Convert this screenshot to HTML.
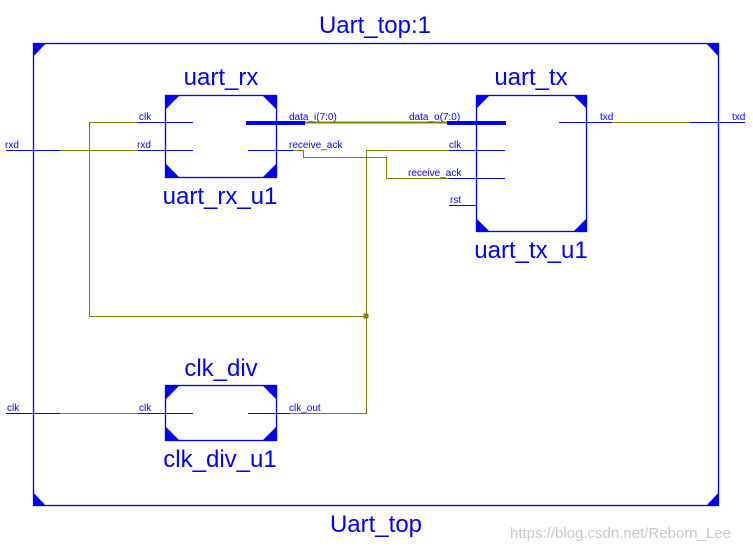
<!DOCTYPE html>
<html><head><meta charset="utf-8"><style>
html,body{margin:0;padding:0;background:#fff;}
svg{display:block;}
text{font-family:"Liberation Sans",Arial,sans-serif;fill:#0000ff;}
.s{font-size:10px;}
.b{font-size:24px;}
</style></head><body>
<svg width="753" height="550" viewBox="0 0 753 550" xmlns="http://www.w3.org/2000/svg">
<g fill="none" stroke="#0000ff" stroke-width="1.3">
<rect x="33.5" y="43.5" width="685" height="462"/>
<rect x="165.5" y="95.5" width="111" height="82"/>
<rect x="476.5" y="95.5" width="110" height="136"/>
<rect x="165.5" y="385.5" width="111" height="55"/>
</g>
<g fill="#0000ff">
<polygon points="33,43 46,43 33,57"/><polygon points="719,43 706,43 719,57"/>
<polygon points="33,506 46,506 33,492"/><polygon points="719,506 706,506 719,492"/>
<polygon points="165,95 180,95 165,110"/><polygon points="277,95 262,95 277,110"/>
<polygon points="165,178 180,178 165,163"/><polygon points="277,178 262,178 277,163"/>
<polygon points="476,95 490,95 476,109"/><polygon points="587,95 573,95 587,109"/>
<polygon points="476,232 490,232 476,218"/><polygon points="587,232 573,232 587,218"/>
<polygon points="165,385 180,385 165,400"/><polygon points="277,385 262,385 277,400"/>
<polygon points="165,441 180,441 165,426"/><polygon points="277,441 262,441 277,426"/>
<rect x="363.5" y="313.5" width="5" height="5" fill="#808000"/>
</g>
<g stroke="#0000ff" stroke-width="1">
<line x1="138" y1="122.5" x2="193" y2="122.5"/>
<line x1="138" y1="150.5" x2="193" y2="150.5"/>
<line x1="6" y1="150.5" x2="60" y2="150.5"/>
<line x1="248" y1="150.5" x2="293" y2="150.5"/>
<line x1="449" y1="150.5" x2="505" y2="150.5"/>
<line x1="449" y1="178.5" x2="505" y2="178.5"/>
<line x1="449" y1="205.5" x2="476" y2="205.5"/>
<line x1="559" y1="122.5" x2="612" y2="122.5"/>
<line x1="690" y1="122.5" x2="745" y2="122.5"/>
<line x1="6" y1="413.5" x2="60" y2="413.5"/>
<line x1="138" y1="413.5" x2="193" y2="413.5"/>
<line x1="248" y1="413.5" x2="290" y2="413.5"/>
</g>
<g stroke="#0000ff" stroke-width="4">
<line x1="246" y1="123" x2="305" y2="123"/>
<line x1="447" y1="123" x2="506" y2="123"/>
</g>
<g fill="none" stroke="#808000" stroke-width="1">
<polyline points="138,122.5 89.5,122.5 89.5,316.5 366.5,316.5"/>
<line x1="60" y1="150.5" x2="138" y2="150.5"/>
<polyline points="293,150.5 303.5,150.5 303.5,157.5 386.5,157.5 386.5,178.5 449,178.5"/>
<polyline points="449,150.5 366.5,150.5 366.5,413.5 290,413.5"/>
<line x1="612" y1="122.5" x2="690" y2="122.5"/>
<line x1="60" y1="413.5" x2="138" y2="413.5"/>
</g>
<line x1="305" y1="122.5" x2="447" y2="122.5" stroke="#808000" stroke-width="2"/>
<g class="s">
<text x="139" y="120" class="s">clk</text>
<text x="137" y="148" class="s">rxd</text>
<text x="5" y="148" class="s">rxd</text>
<text x="289" y="120" class="s">data_i(7:0)</text>
<text x="289" y="148" class="s">receive_ack</text>
<text x="409" y="120" class="s">data_o(7:0)</text>
<text x="449" y="148" class="s">clk</text>
<text x="408" y="176" class="s">receive_ack</text>
<text x="450" y="203" class="s">rst</text>
<text x="600" y="120" class="s">txd</text>
<text x="732" y="120" class="s">txd</text>
<text x="7" y="411" class="s">clk</text>
<text x="139" y="411" class="s">clk</text>
<text x="289" y="411" class="s">clk_out</text>
</g>
<g class="b" text-anchor="middle">
<text x="375" y="33" class="b">Uart_top:1</text>
<text x="221" y="85" class="b">uart_rx</text>
<text x="220" y="204" class="b">uart_rx_u1</text>
<text x="531" y="85" class="b">uart_tx</text>
<text x="531" y="258" class="b">uart_tx_u1</text>
<text x="221" y="376" class="b">clk_div</text>
<text x="220" y="467" class="b">clk_div_u1</text>
<text x="376" y="532" class="b">Uart_top</text>
</g>
<text x="510" y="538" style="font-size:15px;fill:#c8c8c8">https://blog.csdn.net/Reborn_Lee</text>
</svg>
</body></html>
